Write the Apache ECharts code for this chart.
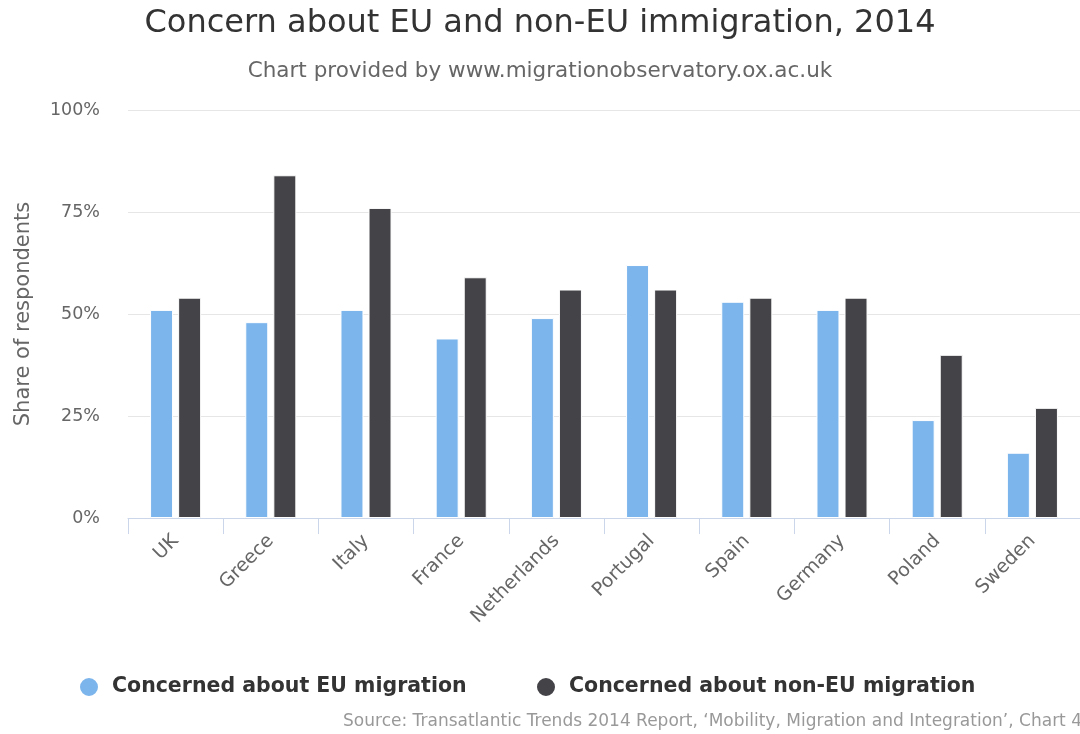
<!DOCTYPE html>
<html>
<head>
<meta charset="utf-8">
<script src="https://cdn.jsdelivr.net/npm/echarts@6/dist/echarts.min.js"></script>
<style>
  html, body { margin: 0; padding: 0; background: #fff; }
  #chart { width: 1080px; height: 734px; }
</style>
</head>
<body>
<div id="chart"></div>
<script>
// Countries surveyed (Transatlantic Trends 2014)
const countries = ['UK', 'Greece', 'Italy', 'France', 'Netherlands', 'Portugal', 'Spain', 'Germany', 'Poland', 'Sweden'];
// Share of respondents concerned, in percent
const concernEU = [51, 48, 51, 44, 49, 62, 53, 51, 24, 16];
const concernNonEU = [54, 84, 76, 59, 56, 56, 54, 54, 40, 27];
const yTicks = [0, 25, 50, 75, 100];

const seriesNames = ['Concerned about EU migration', 'Concerned about non-EU migration'];
const colors = ['#7cb5ec', '#434348'];
const FONT = 'DejaVu Sans';

const chart = echarts.init(document.getElementById('chart'), null, { renderer: 'canvas' });

chart.setOption({
  animation: false,
  textStyle: { fontFamily: FONT },
  title: [
    {
      text: 'Concern about EU and non-EU immigration, 2014',
      left: 'center', top: 3,
      textStyle: { fontFamily: FONT, fontSize: 32, fontWeight: 'normal', color: '#333333' }
    },
    {
      text: 'Chart provided by www.migrationobservatory.ox.ac.uk',
      left: 'center', top: 55,
      textStyle: { fontFamily: FONT, fontSize: 21.5, fontWeight: 'normal', color: '#666666' }
    },
    {
      text: 'Source: Transatlantic Trends 2014 Report, \u2018Mobility, Migration and Integration\u2019, Chart 4',
      right: -7, top: 708,
      textStyle: { fontFamily: FONT, fontSize: 17, fontWeight: 'normal', color: '#999999' }
    }
  ],
  legend: [
    {
      data: [seriesNames[0]], left: 78, top: 676, padding: 0,
      icon: 'circle', itemWidth: 20, itemHeight: 20,
      textStyle: { fontFamily: FONT, fontSize: 20.5, fontWeight: 'bold', color: '#333333', padding: [0, 0, 0, 8] }
    },
    {
      data: [seriesNames[1]], left: 535, top: 676, padding: 0,
      icon: 'circle', itemWidth: 20, itemHeight: 20,
      textStyle: { fontFamily: FONT, fontSize: 20.5, fontWeight: 'bold', color: '#333333', padding: [0, 0, 0, 8] }
    }
  ],
  grid: { left: 128, right: 0, top: 110, bottom: 216, containLabel: false },
  xAxis: {
    type: 'category',
    data: countries,
    axisLine: { lineStyle: { color: '#ccd6eb', width: 1 } },
    axisTick: { show: true, length: 16, lineStyle: { color: '#ccd6eb' }, alignWithLabel: false },
    axisLabel: { rotate: 45, margin: 20, fontFamily: FONT, fontSize: 19, color: '#666666', interval: 0 },
    splitLine: { show: false }
  },
  yAxis: {
    type: 'value',
    min: yTicks[0], max: yTicks[yTicks.length - 1], interval: 25,
    name: 'Share of respondents',
    nameLocation: 'middle',
    nameGap: 94,
    nameRotate: 90,
    nameTextStyle: { fontFamily: FONT, fontSize: 21, color: '#666666' },
    axisLine: { show: false },
    axisTick: { show: false },
    axisLabel: { formatter: '{value}%', margin: 28, fontFamily: FONT, fontSize: 17.5, color: '#666666' },
    splitLine: { lineStyle: { color: '#e6e6e6', width: 1 } }
  },
  series: [
    {
      name: seriesNames[0], type: 'bar', data: concernEU,
      barWidth: 23, barGap: '22%',
      itemStyle: { color: colors[0], borderColor: '#ffffff', borderWidth: 1 }
    },
    {
      name: seriesNames[1], type: 'bar', data: concernNonEU,
      barWidth: 23, barGap: '22%',
      itemStyle: { color: colors[1], borderColor: '#ffffff', borderWidth: 1 }
    }
  ]
});
</script>
</body>
</html>
